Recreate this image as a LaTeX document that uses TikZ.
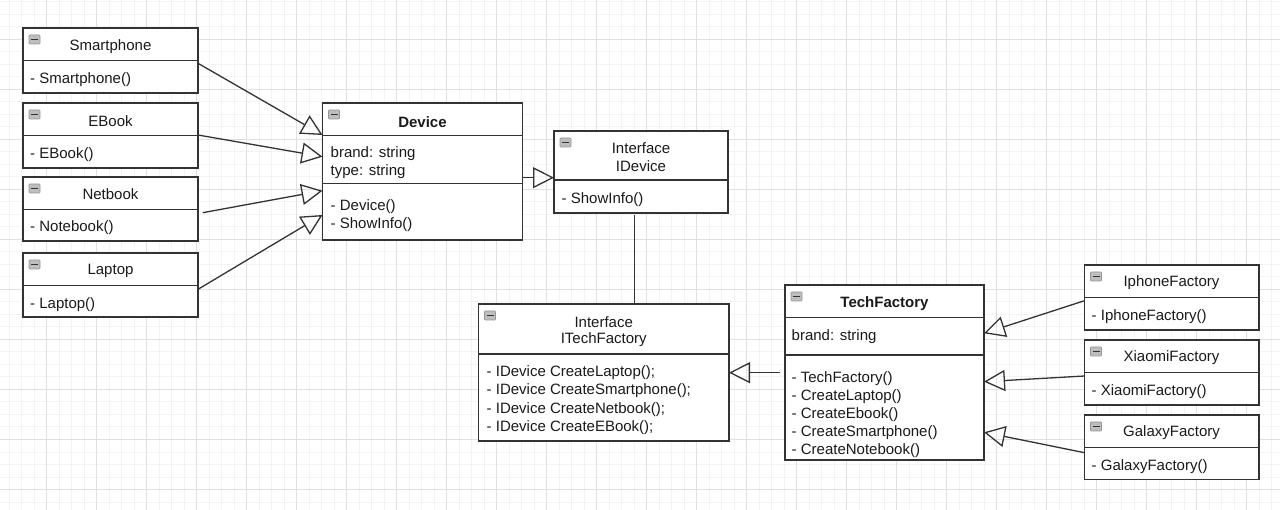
\documentclass[tikz,border=0pt]{standalone}
\usepackage{fontspec}
\setmainfont{Liberation Sans}
\usetikzlibrary{arrows.meta,calc}
\definecolor{linec}{HTML}{333333}
\definecolor{txtc}{HTML}{1A1A1A}
\definecolor{gridmaj}{HTML}{E0E0E0}
\definecolor{gridmin}{HTML}{F3F3F3}
\definecolor{iconfill}{HTML}{BEBEBE}
\definecolor{iconline}{HTML}{959595}
\newcommand{\clsicon}[1]{%
  \draw[iconbox] ($(#1.north west)+(6,7)$) rectangle ++(11,9);
  \draw[icondash] ($(#1.north west)+(8,11.5)$) -- ++(7,0);}
\newcommand{\clsdiv}[2]{%
  \draw[divline] ($(#1.north west)+(0,#2)$) -- ($(#1.north east)+(0,#2)$);}
\begin{document}
\begin{tikzpicture}[x=1pt,y=-1pt,
  font=\fontsize{15}{18}\selectfont,
  classbox/.style={draw=linec, line width=1.3pt, line join=miter, fill=white, anchor=north west, inner sep=0pt, outer sep=0pt},
  divline/.style={draw=linec, line width=1.3pt},
  iconbox/.style={fill=iconfill, draw=iconline, line width=0.6pt, rounded corners=0.8pt},
  icondash/.style={draw=black!80, line width=1.4pt},
  htext/.style={anchor=center, inner sep=0pt, text=txtc, yshift=-1.3pt},
  btext/.style={anchor=west, inner sep=0pt, text=txtc, yshift=-1.3pt},
  gen/.style={draw=linec, line width=1.3pt, -{Triangle[open, length=21pt, width=21pt, line width=1.3pt]}},
  assoc/.style={draw=linec, line width=1.3pt}]
\useasboundingbox (0,0) rectangle (1280,510);
\fill[white] (0,0) rectangle (1280,510);
% grid
\foreach \i in {1,...,103} { \draw[gridmin, line width=0.6pt] ({-3.3+12.5*\i},0) -- ({-3.3+12.5*\i},510); }
\foreach \i in {1,...,41} { \draw[gridmin, line width=0.6pt] (0,{-10.7+12.5*\i}) -- (1280,{-10.7+12.5*\i}); }
\foreach \i in {1,...,25} { \draw[gridmaj, line width=0.7pt] ({-3.3+50*\i},0) -- ({-3.3+50*\i},510); }
\foreach \i in {1,...,10} { \draw[gridmaj, line width=0.7pt] (0,{-10.7+50*\i}) -- (1280,{-10.7+50*\i}); }

% ---- Smartphone
\node[classbox, minimum width=175pt, minimum height=65pt] (smart) at (23,28) {};
\clsdiv{smart}{32.5}
\clsicon{smart}
\node[htext] (smartH) at (110.5,45) {Smartphone};
\node[btext] (smartB) at (30,78) {- Smartphone()};
% ---- EBook
\node[classbox, minimum width=175pt, minimum height=65pt] (ebook) at (23,103) {};
\clsdiv{ebook}{32.5}
\clsicon{ebook}
\node[htext] (ebookH) at (110.5,119.5) {EBook};
\node[btext] (ebookB) at (30,153) {- EBook()};
% ---- Netbook
\node[classbox, minimum width=175pt, minimum height=64pt] (net) at (23,177) {};
\clsdiv{net}{32.5}
\clsicon{net}
\node[htext] (netH) at (110.5,192.5) {Netbook};
\node[btext] (netB) at (30,226.5) {- Notebook()};
% ---- Laptop
\node[classbox, minimum width=175pt, minimum height=64pt] (lap) at (23,253) {};
\clsdiv{lap}{32.5}
\clsicon{lap}
\node[htext] (lapH) at (110.5,269.5) {Laptop};
\node[btext] (lapB) at (30,303) {- Laptop()};

% ---- Device
\node[classbox, minimum width=200pt, minimum height=137pt] (dev) at (322.5,103) {};
\clsdiv{dev}{32.5}
\clsdiv{dev}{80.5}
\clsicon{dev}
\node[htext, font=\fontsize{15}{18}\selectfont\bfseries] (devH) at (422.5,120.5) {Device};
\node[btext] (devA1) at (330.5,152.5) {brand: string};
\node[btext] (devA2) at (330.5,170.5) {type: string};
\node[btext] (devM1) at (330.5,205.5) {- Device()};
\node[btext] (devM2) at (330.5,223.5) {- ShowInfo()};

% ---- IDevice
\node[classbox, minimum width=174pt, minimum height=82pt] (idev) at (554,131) {};
\clsdiv{idev}{49}
\clsicon{idev}
\node[htext] (idevH1) at (641,147) {Interface};
\node[htext] (idevH2) at (641,164.5) {IDevice};
\node[btext] (idevM1) at (561.5,198) {- ShowInfo()};

% ---- ITechFactory
\node[classbox, minimum width=250.5pt, minimum height=137pt] (itf) at (478.5,304) {};
\clsdiv{itf}{50}
\clsicon{itf}
\node[htext] (itfH1) at (603.7,320.5) {Interface};
\node[htext] (itfH2) at (603.7,338) {ITechFactory};
\node[btext] (itfM1) at (486.5,371.5) {- IDevice CreateLaptop();};
\node[btext] (itfM2) at (486.5,389.5) {- IDevice CreateSmartphone();};
\node[btext] (itfM3) at (486.5,408) {- IDevice CreateNetbook();};
\node[btext] (itfM4) at (486.5,426) {- IDevice CreateEBook();};

% ---- TechFactory
\node[classbox, minimum width=199pt, minimum height=175pt] (tf) at (785,285) {};
\clsdiv{tf}{32.5}
\clsdiv{tf}{70}
\clsicon{tf}
\node[htext, font=\fontsize{15}{18}\selectfont\bfseries] (tfH) at (884.5,302.5) {TechFactory};
\node[btext] (tfA1) at (791.5,335) {brand: string};
\node[btext] (tfM1) at (791.5,377.5) {- TechFactory()};
\node[btext] (tfM2) at (791.5,395.5) {- CreateLaptop()};
\node[btext] (tfM3) at (791.5,413.5) {- CreateEbook()};
\node[btext] (tfM4) at (791.5,431.5) {- CreateSmartphone()};
\node[btext] (tfM5) at (791.5,449.5) {- CreateNotebook()};

% ---- IphoneFactory
\node[classbox, minimum width=174.5pt, minimum height=65pt] (iph) at (1084.5,265) {};
\clsdiv{iph}{32.5}
\clsicon{iph}
\node[htext] (iphH) at (1171.5,281.5) {IphoneFactory};
\node[btext] (iphB) at (1091.5,315.5) {- IphoneFactory()};
% ---- XiaomiFactory
\node[classbox, minimum width=174.5pt, minimum height=65pt] (xia) at (1084.5,340) {};
\clsdiv{xia}{32.5}
\clsicon{xia}
\node[htext] (xiaH) at (1171.5,356.5) {XiaomiFactory};
\node[btext] (xiaB) at (1091.5,390) {- XiaomiFactory()};
% ---- GalaxyFactory
\node[classbox, minimum width=174.5pt, minimum height=64.5pt] (gal) at (1084.5,415) {};
\clsdiv{gal}{32.5}
\clsicon{gal}
\node[htext] (galH) at (1171.5,431) {GalaxyFactory};
\node[btext] (galB) at (1091.5,465) {- GalaxyFactory()};

% ---- connectors
\coordinate (s1) at ($(smart.north east)+(0,35.3)$);
\coordinate (d1) at ($(dev.north west)+(0,32)$);
\coordinate (s2) at ($(ebook.north east)+(0,32)$);
\coordinate (d2) at ($(dev.north west)+(0,53.7)$);
\coordinate (s3) at ($(net.north east)+(4.7,35.7)$);
\coordinate (d3) at ($(dev.north west)+(0,87.7)$);
\coordinate (s4) at ($(lap.north east)+(0,36.3)$);
\coordinate (d4) at ($(dev.north west)+(0,112)$);
\draw[gen] (s1) -- (d1);
\draw[gen] (s2) -- (d2);
\draw[gen] (s3) -- (d3);
\draw[gen] (s4) -- (d4);

\coordinate (de) at ($(dev.north east)+(0,74.7)$);
\coordinate (ie) at ($(idev.north west)+(0,46.7)$);
\draw[gen] (de) -- (ie);

\coordinate (ib) at ($(idev.south west)+(80.3,2)$);
\coordinate (it) at ($(itf.north west)+(155.8,0)$);
\draw[assoc] (ib) -- (it);

\coordinate (tl) at ($(tf.north west)+(-5,87.7)$);
\coordinate (ir) at ($(itf.north east)+(0,68.7)$);
\draw[gen] (tl) -- (ir);

\coordinate (p1) at ($(iph.north west)+(0,35.7)$);
\coordinate (t1) at ($(tf.north east)+(0,48.3)$);
\coordinate (p2) at ($(xia.north west)+(0,36)$);
\coordinate (t2) at ($(tf.north east)+(0,96.7)$);
\coordinate (p3) at ($(gal.north west)+(0,37.7)$);
\coordinate (t3) at ($(tf.north east)+(0,147.3)$);
\draw[gen] (p1) -- (t1);
\draw[gen] (p2) -- (t2);
\draw[gen] (p3) -- (t3);
\end{tikzpicture}
\end{document}
